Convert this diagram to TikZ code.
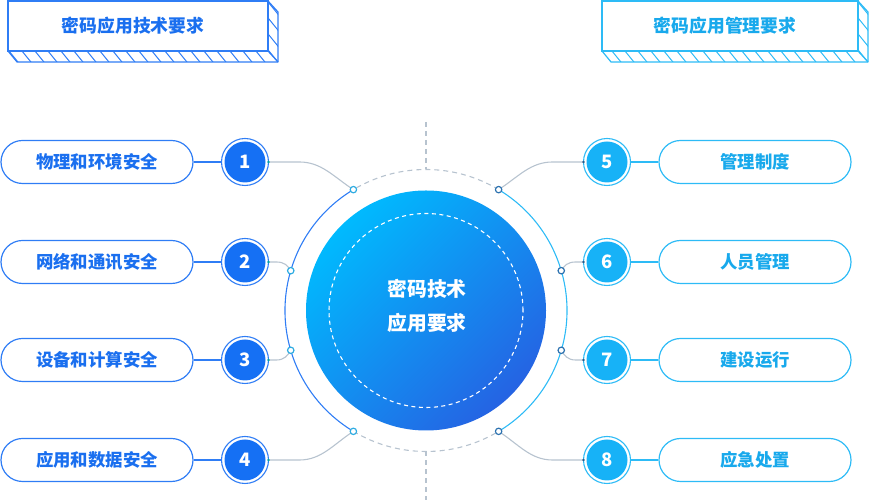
\documentclass[tikz,border=0pt]{standalone}
\usepackage{fontspec}
\newfontfamily\cjk{Noto Sans CJK SC}
\usetikzlibrary{calc}
\definecolor{lblue}{HTML}{1570F4}
\definecolor{rblue}{HTML}{17B2F7}
\definecolor{lline}{HTML}{2F7DF5}
\definecolor{rline}{HTML}{2DBBF6}
\definecolor{ltext}{HTML}{1A6FEF}
\definecolor{rtext}{HTML}{18A9EC}
\definecolor{gline}{HTML}{B7C3CF}
\definecolor{gtop}{HTML}{00BAFE}
\definecolor{gbot}{HTML}{2563E3}
\definecolor{ldotc}{HTML}{2EACE2}
\definecolor{rdotc}{HTML}{2C72B0}
\tikzset{
  pill/.style={draw, line width=1.2pt, rounded corners=21.5pt, minimum width=192pt, minimum height=43pt, inner sep=0pt, font=\cjk\bfseries\fontsize{17.4}{20}\selectfont},
  lpill/.style={pill, draw=lline, text=ltext},
  rpill/.style={pill, draw=rline, text=rtext},
  numc/.style={circle, minimum size=41pt, inner sep=0pt, outer sep=3pt, text=white, font=\cjk\bfseries\fontsize{18.5}{20}\selectfont},
  lnum/.style={numc, fill=lblue},
  rnum/.style={numc, fill=rblue},
  conn/.style={gline, line width=1.1pt},
  gdash/.style={gline, line width=1.1pt, dash pattern=on 5pt off 4pt},
  ttext/.style={font=\cjk\bfseries\fontsize{17.8}{20}\selectfont},
}
\begin{document}
\begin{tikzpicture}[x=1pt,y=1pt]
\useasboundingbox (0,0) rectangle (871,500);
\coordinate (c) at (426,189.5);

% ---------- title boxes ----------
\begin{scope}
\clip (8,449)--(268,449)--(268,499)--(278,488)--(278,438)--(17,438)--cycle;
\foreach \x in {0,13,...,320} \draw[lline, line width=1pt] (\x-35,503) -- (\x+35,417);
\end{scope}
\draw[lline, line width=1.3pt] (8,449) rectangle (268,499);
\draw[lline, line width=1.2pt, line join=round] (268,499)--(278,488)--(278,438)--(17,438)--(8,449);
\draw[lline, line width=1.2pt] (268,449)--(278,438);
\node[ttext, text=ltext] (t1) at (133,474) {密码应用技术要求};

\begin{scope}
\clip (602,449)--(858,449)--(858,499)--(868,488)--(868,438)--(611,438)--cycle;
\foreach \x in {590,603,...,910} \draw[rline, line width=1pt] (\x-35,503) -- (\x+35,417);
\end{scope}
\draw[rline, line width=1.3pt] (602,449) rectangle (858,499);
\draw[rline, line width=1.2pt, line join=round] (858,499)--(868,488)--(868,438)--(611,438)--(602,449);
\draw[rline, line width=1.2pt] (858,449)--(868,438);
\node[ttext, text=rtext] (t2) at (725,474) {密码应用管理要求};

% ---------- centre ----------
\shade[top color=gtop, bottom color=gbot, shading angle=45] (c) circle[radius=120];
\draw[white, line width=1.1pt, dash pattern=on 4pt off 3.5pt] (c) circle[radius=97];
\node[text=white, align=center, font=\cjk\bfseries\fontsize{19.8}{34}\selectfont] (ct) at (427,194) {密码技术\\应用要求};

% ring
\draw[lline, line width=1.1pt] ($(c)+(121:141)$) arc[start angle=121, end angle=239, radius=141];
\draw[rline, line width=1.1pt] ($(c)+(59:141)$) arc[start angle=59, end angle=-59, radius=141];
\draw[gdash] ($(c)+(59:141)$) arc[start angle=59, end angle=121, radius=141];
\draw[gdash] ($(c)+(239:141)$) arc[start angle=239, end angle=301, radius=141];
\coordinate (vt) at (426,378);
\coordinate (vb) at (426,0);
\draw[gdash] (vt) -- ($(c)+(90:141)$);
\draw[gdash] ($(c)+(270:141)$) -- (vb);

\coordinate (d1) at ($(c)+(121:141)$);
\coordinate (d2) at ($(c)+(163.6:141)$);
\coordinate (d3) at ($(c)+(196.4:141)$);
\coordinate (d4) at ($(c)+(239:141)$);
\coordinate (d5) at ($(c)+(59:141)$);
\coordinate (d6) at ($(c)+(16.4:141)$);
\coordinate (d7) at ($(c)+(-16.4:141)$);
\coordinate (d8) at ($(c)+(-59:141)$);

% ---------- left items ----------
\node[lpill] (p1) at (97,338) {物理和环境安全};
\node[lpill] (p2) at (97,238) {网络和通讯安全};
\node[lpill] (p3) at (97,140) {设备和计算安全};
\node[lpill] (p4) at (97,40) {应用和数据安全};
\node[lnum] (n1) at (245,338) {1};
\node[lnum] (n2) at (245,238) {2};
\node[lnum] (n3) at (245,140) {3};
\node[lnum] (n4) at (245,40) {4};
\foreach \i in {1,2,3,4} {
  \draw[lline, line width=1.1pt] (n\i.center) circle[radius=23.5];
  \draw[lline, line width=1.2pt] (p\i.east) -- (n\i.west);
}

% ---------- right items ----------
\node[rpill] (p5) at (755,338) {管理制度};
\node[rpill] (p6) at (755,238) {人员管理};
\node[rpill] (p7) at (755,140) {建设运行};
\node[rpill] (p8) at (755,40) {应急处置};
\node[rnum] (n5) at (607,338) {5};
\node[rnum] (n6) at (607,238) {6};
\node[rnum] (n7) at (607,140) {7};
\node[rnum] (n8) at (607,40) {8};
\foreach \i in {5,6,7,8} {
  \draw[rline, line width=1.1pt] (n\i.center) circle[radius=23.5];
  \draw[rline, line width=1.2pt] (p\i.west) -- (n\i.east);
}

% ---------- connectors ----------
\draw[conn] (n1.east) -- ++(31,0) .. controls ++(22,0) and ($(d1)+(-20,13)$) .. (d1);
\draw[conn] (n2.east) -- ++(8,0) .. controls ++(8,0) and ($(d2)+(-3,5)$) .. (d2);
\draw[conn] (n3.east) -- ++(8,0) .. controls ++(8,0) and ($(d3)+(-3,-5)$) .. (d3);
\draw[conn] (n4.east) -- ++(31,0) .. controls ++(22,0) and ($(d4)+(-20,-13)$) .. (d4);
\draw[conn] (n5.west) -- ++(-31,0) .. controls ++(-22,0) and ($(d5)+(20,13)$) .. (d5);
\draw[conn] (n6.west) -- ++(-8,0) .. controls ++(-8,0) and ($(d6)+(3,5)$) .. (d6);
\draw[conn] (n7.west) -- ++(-8,0) .. controls ++(-8,0) and ($(d7)+(3,-5)$) .. (d7);
\draw[conn] (n8.west) -- ++(-31,0) .. controls ++(-22,0) and ($(d8)+(20,-13)$) .. (d8);

\foreach \i in {1,2,3,4} {
  \draw[ldotc, line width=1.2pt, fill=white] (d\i) circle[radius=3.2];
  \fill[teal!70!cyan] (n\i.east) circle[radius=1.4];
}
\foreach \i in {5,6,7,8} {
  \draw[rdotc, line width=1.2pt, fill=white] (d\i) circle[radius=3.2];
  \fill[rdotc!80!black] (n\i.west) circle[radius=1.4];
}
\end{tikzpicture}
\end{document}
